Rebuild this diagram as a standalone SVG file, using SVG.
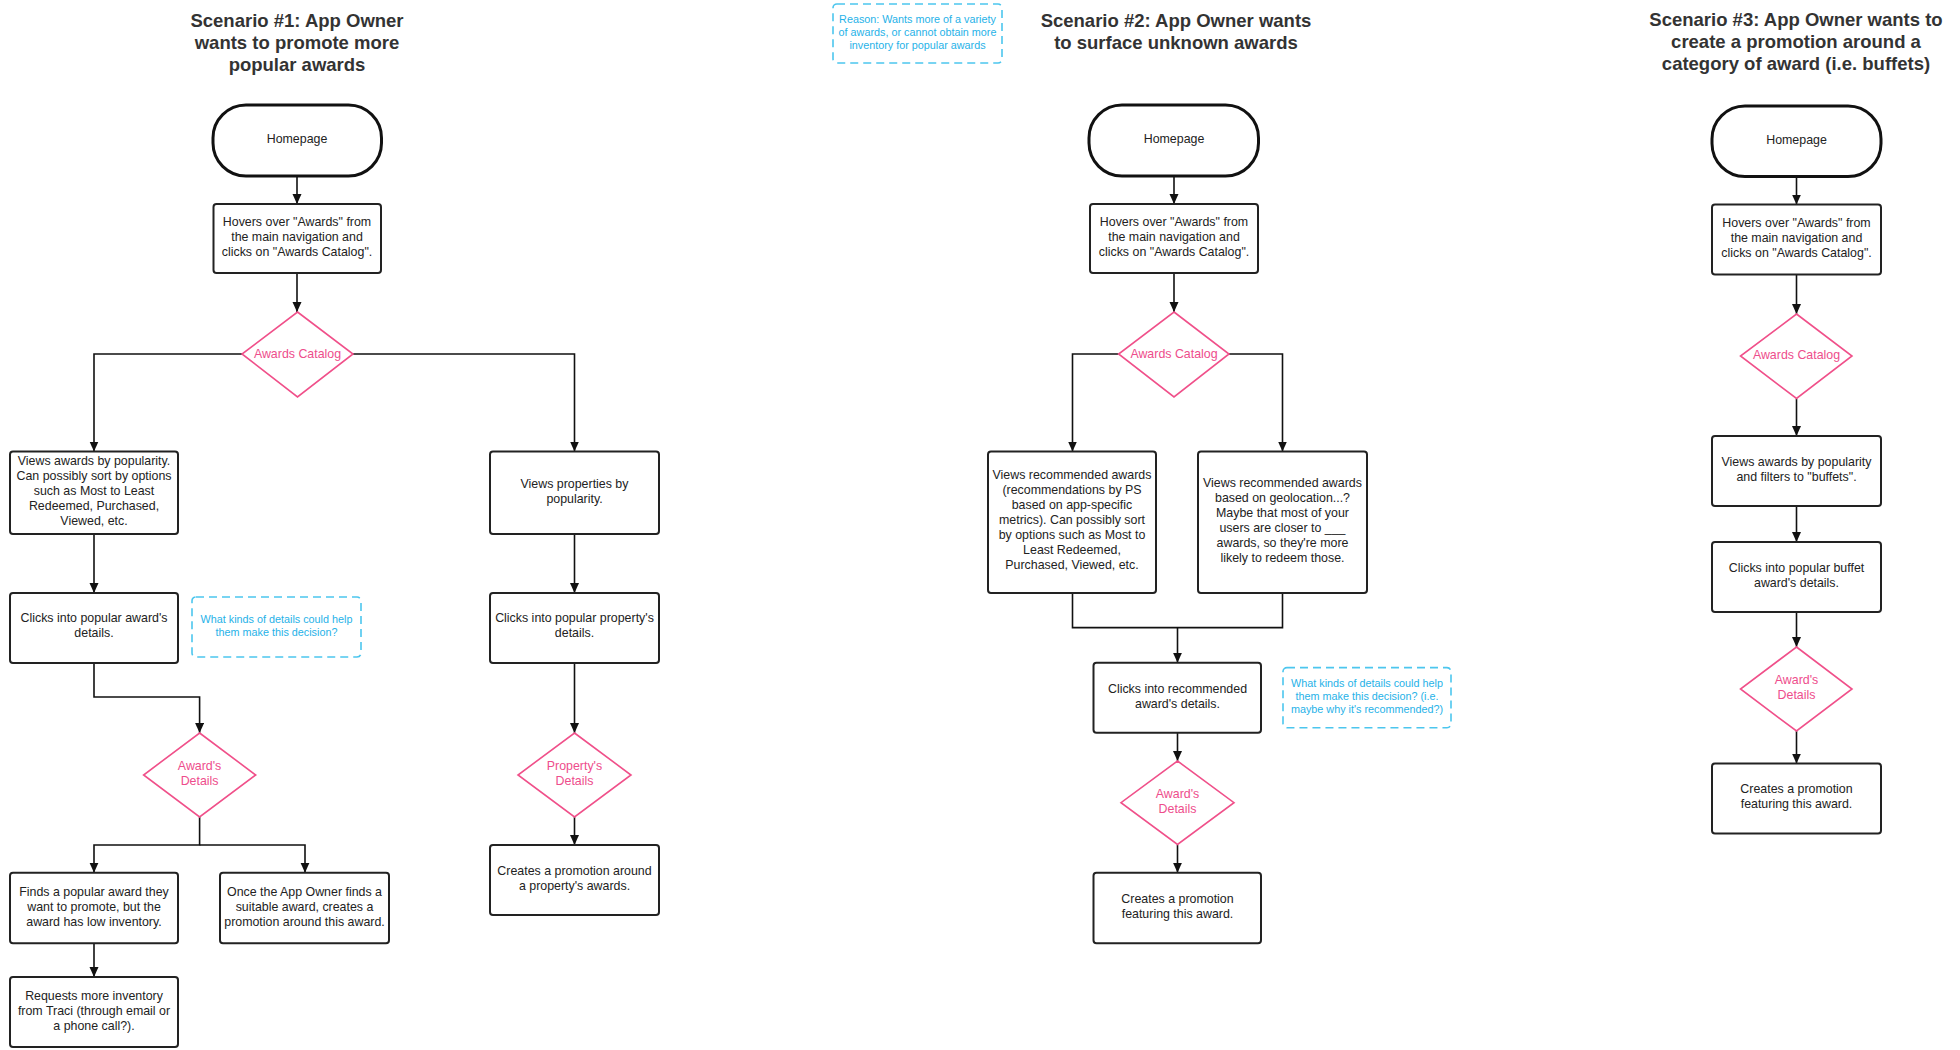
<svg xmlns="http://www.w3.org/2000/svg" width="1960" height="1050" viewBox="0 0 1960 1050">
<style>
text{font-family:"Liberation Sans",Arial,sans-serif;text-anchor:middle}
.t{font-size:18.5px;font-weight:bold;fill:#333}
.b{font-size:12.4px;fill:#222}
.p{font-size:12.4px;fill:#ee4d8c}
.n{font-size:10.8px;fill:#1fb2e8}
.term{fill:#fff;stroke:#111;stroke-width:3}
.box{fill:#fff;stroke:#222;stroke-width:2}
.dia{fill:#fff;stroke:#f0508a;stroke-width:1.6}
.note{fill:#fff;stroke:#4cc6ee;stroke-width:1.6;stroke-dasharray:8 5}
.c{fill:none;stroke:#111;stroke-width:1.6}
.a{marker-end:url(#ah)}
</style>
<defs>
<marker id="ah" markerUnits="userSpaceOnUse" markerWidth="10" markerHeight="10" refX="10" refY="4.5" orient="auto">
<path d="M0,0 L10,4.5 L0,9 z" fill="#111"/>
</marker>
</defs>
<rect width="1960" height="1050" fill="#fff"/>

<g id="titles">
<text class="t" x="297" y="26.5">Scenario #1: App Owner</text>
<text class="t" x="297" y="48.5">wants to promote more</text>
<text class="t" x="297" y="70.5">popular awards</text>
<text class="t" x="1176" y="26.5">Scenario #2: App Owner wants</text>
<text class="t" x="1176" y="48.5">to surface unknown awards</text>
<text class="t" x="1796" y="26">Scenario #3: App Owner wants to</text>
<text class="t" x="1796" y="48">create a promotion around a</text>
<text class="t" x="1796" y="70">category of award (i.e. buffets)</text>
</g>

<g id="connectors">
<path class="c a" d="M297,176 V204"/>
<path class="c a" d="M297,273 V312"/>
<path class="c a" d="M242,354 H94 V451.5"/>
<path class="c a" d="M353,354 H574.5 V451.5"/>
<path class="c a" d="M94,534 V593"/>
<path class="c a" d="M574.5,534 V593"/>
<path class="c a" d="M94,663 V697 H199.6 V733"/>
<path class="c a" d="M574.5,663 V733"/>
<path class="c a" d="M199.6,817 V845 H94 V872.7"/>
<path class="c a" d="M199.6,845 H305 V872.7"/>
<path class="c a" d="M574.5,817 V845"/>
<path class="c a" d="M94,943 V977"/>

<path class="c a" d="M1174,176 V204"/>
<path class="c a" d="M1174,273 V312"/>
<path class="c a" d="M1118.6,354 H1072.5 V451.5"/>
<path class="c a" d="M1229,354 H1282.5 V451.5"/>
<path class="c" d="M1072.5,593 V627.6 H1282.5 V593"/>
<path class="c a" d="M1177.5,627.6 V662.7"/>
<path class="c a" d="M1177.5,732.6 V761"/>
<path class="c a" d="M1177.5,844.5 V872.7"/>

<path class="c a" d="M1796.5,176.6 V204.6"/>
<path class="c a" d="M1796.5,274.6 V314"/>
<path class="c a" d="M1796.5,398.5 V436"/>
<path class="c a" d="M1796.5,506 V542"/>
<path class="c a" d="M1796.5,612 V647"/>
<path class="c a" d="M1796.5,731 V763.6"/>
</g>

<!-- Scenario 1 -->
<g id="s1-home"><rect class="term" x="213" y="105" width="168.5" height="71" rx="33" ry="33"/><text class="b" x="297" y="143.4">Homepage</text></g>
<g id="s1-hover"><rect class="box" x="213.5" y="204" width="167.5" height="69" rx="3"/>
<text class="b" x="297" y="226.4">Hovers over "Awards" from</text><text class="b" x="297" y="241.4">the main navigation and</text><text class="b" x="297" y="256.4">clicks on "Awards Catalog".</text></g>
<g id="s1-catalog"><path class="dia" d="M297.5,312 L353,354 L297.5,397 L242,354 Z"/><text class="p" x="297.5" y="358.4">Awards Catalog</text></g>
<g id="s1-views"><rect class="box" x="10" y="451.5" width="168" height="82.5" rx="3"/>
<text class="b" x="94" y="465.4">Views awards by popularity.</text><text class="b" x="94" y="480.4">Can possibly sort by options</text><text class="b" x="94" y="495.4">such as Most to Least</text><text class="b" x="94" y="510.4">Redeemed, Purchased,</text><text class="b" x="94" y="525.4">Viewed, etc.</text></g>
<g id="s1-clicks"><rect class="box" x="10" y="593" width="168" height="70" rx="3"/>
<text class="b" x="94" y="622.4">Clicks into popular award's</text><text class="b" x="94" y="637.4">details.</text></g>
<g id="s1-note"><rect class="note" x="192" y="597" width="169" height="60" rx="4"/>
<text class="n" x="276.5" y="622.9">What kinds of details could help</text><text class="n" x="276.5" y="635.9">them make this decision?</text></g>
<g id="s1-awarddetails"><path class="dia" d="M199.6,733 L255.7,775 L199.6,817 L143.6,775 Z"/><text class="p" x="199.6" y="770.2">Award's</text><text class="p" x="199.6" y="785.2">Details</text></g>
<g id="s1-finds"><rect class="box" x="10" y="872.7" width="168" height="70.5" rx="3"/>
<text class="b" x="94" y="896.2">Finds a popular award they</text><text class="b" x="94" y="911.2">want to promote, but the</text><text class="b" x="94" y="926.2">award has low inventory.</text></g>
<g id="s1-once"><rect class="box" x="220" y="872.7" width="169" height="70.5" rx="3"/>
<text class="b" x="304.5" y="896.2">Once the App Owner finds a</text><text class="b" x="304.5" y="911.2">suitable award, creates a</text><text class="b" x="304.5" y="926.2">promotion around this award.</text></g>
<g id="s1-requests"><rect class="box" x="10" y="977" width="168" height="70" rx="3"/>
<text class="b" x="94" y="1000.4">Requests more inventory</text><text class="b" x="94" y="1015.4">from Traci (through email or</text><text class="b" x="94" y="1030.4">a phone call?).</text></g>
<g id="s1-viewsprop"><rect class="box" x="490" y="451.5" width="169" height="82.5" rx="3"/>
<text class="b" x="574.5" y="487.8">Views properties by</text><text class="b" x="574.5" y="502.8">popularity.</text></g>
<g id="s1-clicksprop"><rect class="box" x="490" y="593" width="169" height="70" rx="3"/>
<text class="b" x="574.5" y="622.4">Clicks into popular property's</text><text class="b" x="574.5" y="637.4">details.</text></g>
<g id="s1-propdetails"><path class="dia" d="M574.5,733 L631,775 L574.5,817 L518,775 Z"/><text class="p" x="574.5" y="770.2">Property's</text><text class="p" x="574.5" y="785.2">Details</text></g>
<g id="s1-createsprop"><rect class="box" x="490" y="845" width="169" height="70" rx="3"/>
<text class="b" x="574.5" y="875.4">Creates a promotion around</text><text class="b" x="574.5" y="890.4">a property's awards.</text></g>

<!-- Scenario 2 -->
<g id="s2-reason"><rect class="note" x="833" y="4" width="169" height="59" rx="4"/>
<text class="n" x="917.5" y="22.9">Reason: Wants more of a variety</text><text class="n" x="917.5" y="36.2">of awards, or cannot obtain more</text><text class="n" x="917.5" y="49.2">inventory for popular awards</text></g>
<g id="s2-home"><rect class="term" x="1089" y="105" width="169.5" height="71" rx="33" ry="33"/><text class="b" x="1174" y="143.4">Homepage</text></g>
<g id="s2-hover"><rect class="box" x="1090" y="204" width="168" height="69" rx="3"/>
<text class="b" x="1174" y="226.4">Hovers over "Awards" from</text><text class="b" x="1174" y="241.4">the main navigation and</text><text class="b" x="1174" y="256.4">clicks on "Awards Catalog".</text></g>
<g id="s2-catalog"><path class="dia" d="M1174,312 L1229,354 L1174,397 L1118.6,354 Z"/><text class="p" x="1174" y="358.4">Awards Catalog</text></g>
<g id="s2-recommended"><rect class="box" x="988" y="451.5" width="168" height="141.5" rx="3"/>
<text class="b" x="1072" y="479.4">Views recommended awards</text><text class="b" x="1072" y="494.4">(recommendations by PS</text><text class="b" x="1072" y="509.4">based on app-specific</text><text class="b" x="1072" y="524.4">metrics). Can possibly sort</text><text class="b" x="1072" y="539.4">by options such as Most to</text><text class="b" x="1072" y="554.4">Least Redeemed,</text><text class="b" x="1072" y="569.4">Purchased, Viewed, etc.</text></g>
<g id="s2-geo"><rect class="box" x="1198" y="451.5" width="169" height="141.5" rx="3"/>
<text class="b" x="1282.5" y="487.4">Views recommended awards</text><text class="b" x="1282.5" y="502.4">based on geolocation...?</text><text class="b" x="1282.5" y="517.4">Maybe that most of your</text><text class="b" x="1282.5" y="532.4">users are closer to ___</text><text class="b" x="1282.5" y="547.4">awards, so they're more</text><text class="b" x="1282.5" y="562.4">likely to redeem those.</text></g>
<g id="s2-clicks"><rect class="box" x="1093.5" y="662.7" width="167.5" height="70" rx="3"/>
<text class="b" x="1177.5" y="693">Clicks into recommended</text><text class="b" x="1177.5" y="708">award's details.</text></g>
<g id="s2-note"><rect class="note" x="1283" y="667.6" width="168" height="60.2" rx="4"/>
<text class="n" x="1367" y="686.9">What kinds of details could help</text><text class="n" x="1367" y="699.9">them make this decision? (i.e.</text><text class="n" x="1367" y="712.9">maybe why it's recommended?)</text></g>
<g id="s2-awarddetails"><path class="dia" d="M1177.5,761 L1234,802.7 L1177.5,844.5 L1121,802.7 Z"/><text class="p" x="1177.5" y="798">Award's</text><text class="p" x="1177.5" y="813.4">Details</text></g>
<g id="s2-creates"><rect class="box" x="1093.5" y="872.7" width="167.5" height="70.5" rx="3"/>
<text class="b" x="1177.5" y="903.4">Creates a promotion</text><text class="b" x="1177.5" y="918.4">featuring this award.</text></g>

<!-- Scenario 3 -->
<g id="s3-home"><rect class="term" x="1712" y="106" width="169" height="70.6" rx="33" ry="33"/><text class="b" x="1796.5" y="144.4">Homepage</text></g>
<g id="s3-hover"><rect class="box" x="1712" y="204.6" width="169" height="70" rx="3"/>
<text class="b" x="1796.5" y="227.4">Hovers over "Awards" from</text><text class="b" x="1796.5" y="242.4">the main navigation and</text><text class="b" x="1796.5" y="257.4">clicks on "Awards Catalog".</text></g>
<g id="s3-catalog"><path class="dia" d="M1796.5,314 L1852,356 L1796.5,398.5 L1740.5,356 Z"/><text class="p" x="1796.5" y="358.6">Awards Catalog</text></g>
<g id="s3-views"><rect class="box" x="1712" y="436" width="169" height="70" rx="3"/>
<text class="b" x="1796.5" y="466.4">Views awards by popularity</text><text class="b" x="1796.5" y="481.4">and filters to "buffets".</text></g>
<g id="s3-clicks"><rect class="box" x="1712" y="542" width="169" height="70" rx="3"/>
<text class="b" x="1796.5" y="572.4">Clicks into popular buffet</text><text class="b" x="1796.5" y="587.4">award's details.</text></g>
<g id="s3-awarddetails"><path class="dia" d="M1796.5,647 L1852,689 L1796.5,731 L1740.5,689 Z"/><text class="p" x="1796.5" y="684.4">Award's</text><text class="p" x="1796.5" y="699.4">Details</text></g>
<g id="s3-creates"><rect class="box" x="1712" y="763.6" width="169" height="70" rx="3"/>
<text class="b" x="1796.5" y="793.4">Creates a promotion</text><text class="b" x="1796.5" y="808.4">featuring this award.</text></g>
</svg>
